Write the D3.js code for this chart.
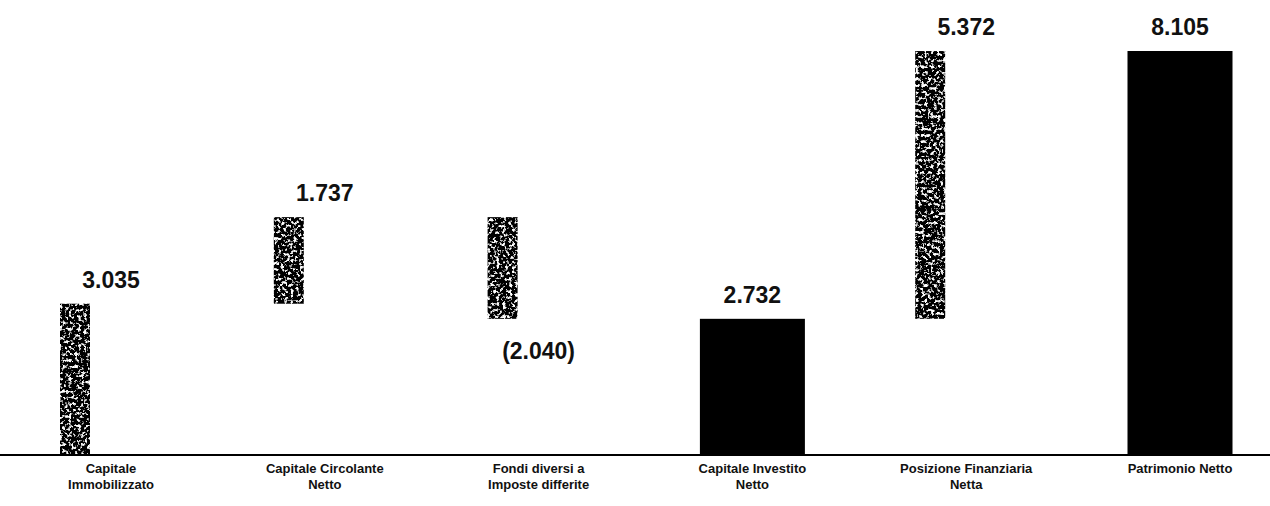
<!DOCTYPE html>
<html>
<head>
<meta charset="utf-8">
<script src="https://cdn.jsdelivr.net/npm/d3@7"></script>
<style>
  html, body { margin: 0; padding: 0; background: #fff; }
  svg { display: block; }
</style>
</head>
<body>
<svg id="chart" width="1270" height="506"></svg>
<script>
// ---- data ----
const categories = [
  "Capitale\nImmobilizzato",
  "Capitale Circolante\nNetto",
  "Fondi diversi a\nImposte differite",
  "Capitale Investito\nNetto",
  "Posizione Finanziaria\nNetta",
  "Patrimonio Netto"
];
const values = [3035, 1737, -2040, 2732, 5372, 8105];
const kinds = ["delta", "delta", "delta", "total", "delta", "total"];
const valueLabels = ["3.035", "1.737", "(2.040)", "2.732", "5.372", "8.105"];

// ---- layout ----
const W = 1270, H = 506;
const baseY = 455;
const svg = d3.select("#chart");

const x = d3.scalePoint().domain(categories).range([111, 1180]);
const y = d3.scaleLinear().domain([0, 8105]).range([baseY, 51]);

// waterfall segments
let running = 0;
const segs = categories.map((c, i) => {
  let s, e;
  if (kinds[i] === "total") { s = 0; e = values[i]; running = values[i]; }
  else { s = running; e = running + values[i]; running = e; }
  return { cat: c, start: s, end: e, kind: kinds[i], value: values[i], label: valueLabels[i] };
});

// grain texture filter (scanned look)
const defs = svg.append("defs");
const f = defs.append("filter").attr("id", "grain")
  .attr("x", "0").attr("y", "0").attr("width", "100%").attr("height", "100%");
f.append("feTurbulence").attr("type", "fractalNoise").attr("baseFrequency", "0.32")
  .attr("numOctaves", "4").attr("seed", "11").attr("result", "noise");
f.append("feColorMatrix").attr("in", "noise").attr("type", "matrix")
  .attr("values", "1 0 0 0 0  1 0 0 0 0  1 0 0 0 0  0 0 0 0 1").attr("result", "gray");
const ct = f.append("feComponentTransfer").attr("in", "gray").attr("result", "bw");
["feFuncR", "feFuncG", "feFuncB"].forEach(fn =>
  ct.append(fn).attr("type", "linear").attr("slope", "6").attr("intercept", "-3.2"));
f.append("feComposite").attr("in", "bw").attr("in2", "SourceAlpha").attr("operator", "in");

// bars
const deltaW = 30, deltaOff = -36, totalW = 105;
svg.append("g").selectAll("rect").data(segs).join("rect")
  .attr("x", d => d.kind === "total" ? x(d.cat) - totalW / 2 : x(d.cat) + deltaOff - deltaW / 2)
  .attr("width", d => d.kind === "total" ? totalW : deltaW)
  .attr("y", d => y(Math.max(d.start, d.end)))
  .attr("height", d => Math.abs(y(d.start) - y(d.end)))
  .attr("fill", "#000")
  .attr("filter", d => d.kind === "total" ? null : "url(#grain)");

// axis line
svg.append("line").attr("x1", 0).attr("x2", W).attr("y1", baseY).attr("y2", baseY)
  .attr("stroke", "#000").attr("stroke-width", 2);

// value labels
svg.append("g").selectAll("text").data(segs).join("text")
  .attr("x", d => x(d.cat))
  .attr("y", d => d.value < 0 ? y(Math.min(d.start, d.end)) + 40 : y(Math.max(d.start, d.end)) - 16)
  .attr("text-anchor", "middle")
  .attr("font-family", "'Liberation Sans', Arial, sans-serif")
  .attr("font-weight", "bold")
  .attr("font-size", 23)
  .attr("fill", "#111")
  .text(d => d.label);

// category labels
const cg = svg.append("g");
categories.forEach(c => {
  const t = cg.append("text")
    .attr("x", x(c)).attr("y", 473)
    .attr("text-anchor", "middle")
    .attr("font-family", "'Liberation Sans', Arial, sans-serif")
    .attr("font-weight", "bold")
    .attr("font-size", 13)
    .attr("fill", "#111");
  c.split("\n").forEach((line, j) => {
    t.append("tspan").attr("x", x(c)).attr("dy", j === 0 ? 0 : 16).text(line);
  });
});
</script>
</body>
</html>
